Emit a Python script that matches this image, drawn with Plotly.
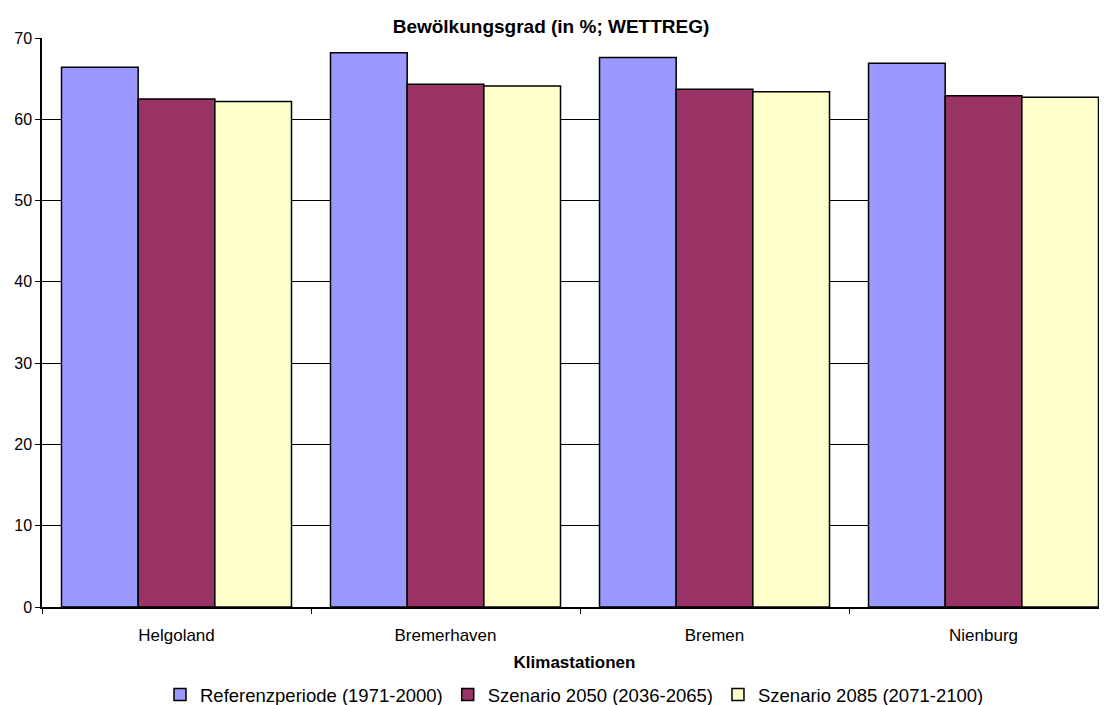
import plotly.graph_objects as go

stations = ["Helgoland", "Bremerhaven", "Bremen", "Nienburg"]
referenz = [66.4, 68.2, 67.6, 66.9]
szenario_2050 = [62.5, 64.3, 63.7, 62.9]
szenario_2085 = [62.2, 64.1, 63.4, 62.7]

series = [
    ("Referenzperiode (1971-2000)", referenz, "#9999FF"),
    ("Szenario 2050 (2036-2065)", szenario_2050, "#993366"),
    ("Szenario 2085 (2071-2100)", szenario_2085, "#FFFFCC"),
]

font = "Liberation Sans, Arial, sans-serif"

# page body has an 8px margin; the figure runs past the window on the right/bottom
W, H = 1099, 717

fig = go.Figure()
for name, vals, color in series:
    fig.add_trace(
        go.Bar(
            name=name,
            x=stations,
            y=vals,
            marker=dict(color=color, line=dict(color="black", width=1.5)),
        )
    )

fig.update_layout(
    width=W,
    height=H,
    margin=dict(l=34, r=0, t=30, b=118),
    paper_bgcolor="white",
    plot_bgcolor="white",
    barmode="group",
    bargap=0.145,
    bargroupgap=0,
    font=dict(family=font, size=16, color="black"),
    title=dict(
        text="<b>Bewölkungsgrad (in %; WETTREG)</b>",
        x=543 / W,
        xanchor="center",
        y=1 - 18 / H,
        yanchor="middle",
        font=dict(size=19),
    ),
    legend=dict(
        orientation="h",
        x=0.5,
        xanchor="center",
        y=-88 / 569,
        yanchor="middle",
        font=dict(size=18.5),
        itemwidth=30,
        traceorder="normal",
    ),
)

fig.update_xaxes(
    range=[-0.5, 3.459],
    automargin=False,
    showline=True,
    linecolor="black",
    linewidth=1.5,
    ticks="outside",
    tickson="boundaries",
    ticklen=5,
    tickcolor="black",
    showgrid=False,
    tickfont=dict(size=17),
    ticklabelstandoff=12,
    title=dict(text="<b>Klimastationen</b>", font=dict(size=17), standoff=12),
)

fig.update_yaxes(
    range=[0, 70],
    dtick=10,
    automargin=False,
    showline=True,
    linecolor="black",
    linewidth=1.5,
    ticks="outside",
    ticklen=5,
    tickcolor="black",
    showgrid=True,
    gridcolor="black",
    gridwidth=1,
    zeroline=False,
    tickfont=dict(size=16),
)

fig.write_html("out.html")
